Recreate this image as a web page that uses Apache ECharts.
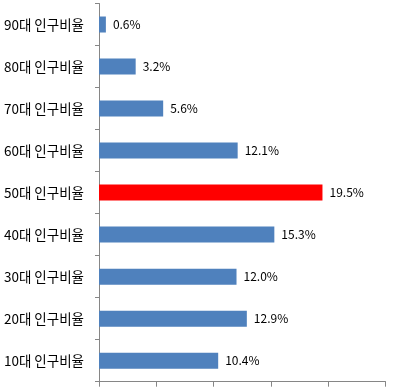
<!DOCTYPE html>
<html>
<head>
<meta charset="utf-8">
<script src="https://cdn.jsdelivr.net/npm/echarts@6/dist/echarts.min.js"></script>
<style>
html, body { margin: 0; padding: 0; background: #fff; }
#main { width: 404px; height: 391px; }
</style>
</head>
<body>
<div id="main"></div>
<script>
// 연령대별 인구비율 (아래에서 위로)
var categories = ['10대 인구비율', '20대 인구비율', '30대 인구비율', '40대 인구비율', '50대 인구비율', '60대 인구비율', '70대 인구비율', '80대 인구비율', '90대 인구비율'];
var values = [10.4, 12.9, 12.0, 15.3, 19.5, 12.1, 5.6, 3.2, 0.6];
var highlight = '50대 인구비율';

var chart = echarts.init(document.getElementById('main'));
chart.setOption({
	animation: false,
	textStyle: { fontFamily: '"Noto Sans CJK KR", "Noto Sans", sans-serif' },
	grid: { left: 99, right: 18.5, top: 3.5, bottom: 9.3, containLabel: false },
	xAxis: {
		type: 'value',
		min: 0,
		max: 25,
		interval: 5,
		axisLine: { show: true, lineStyle: { color: '#868686', width: 1 } },
		axisTick: { show: true, length: 5, lineStyle: { color: '#868686' } },
		axisLabel: { show: false },
		splitLine: { show: false }
	},
	yAxis: {
		type: 'category',
		data: categories,
		axisLine: { show: true, lineStyle: { color: '#868686', width: 1 } },
		axisTick: { show: true, length: 4, lineStyle: { color: '#868686' } },
		axisLabel: { color: '#000', fontSize: 13.5, margin: 15 }
	},
	series: [{
		type: 'bar',
		barWidth: 16,
		data: values.map(function (v, i) {
			return {
				value: v,
				itemStyle: { color: categories[i] == highlight ? '#FF0000' : '#4F81BD' }
			};
		}),
		label: {
			show: true,
			position: 'right',
			distance: 7,
			color: '#000',
			fontSize: 12,
			formatter: function (p) { return p.value.toFixed(1) + '%'; }
		}
	}]
});
</script>
</body>
</html>
